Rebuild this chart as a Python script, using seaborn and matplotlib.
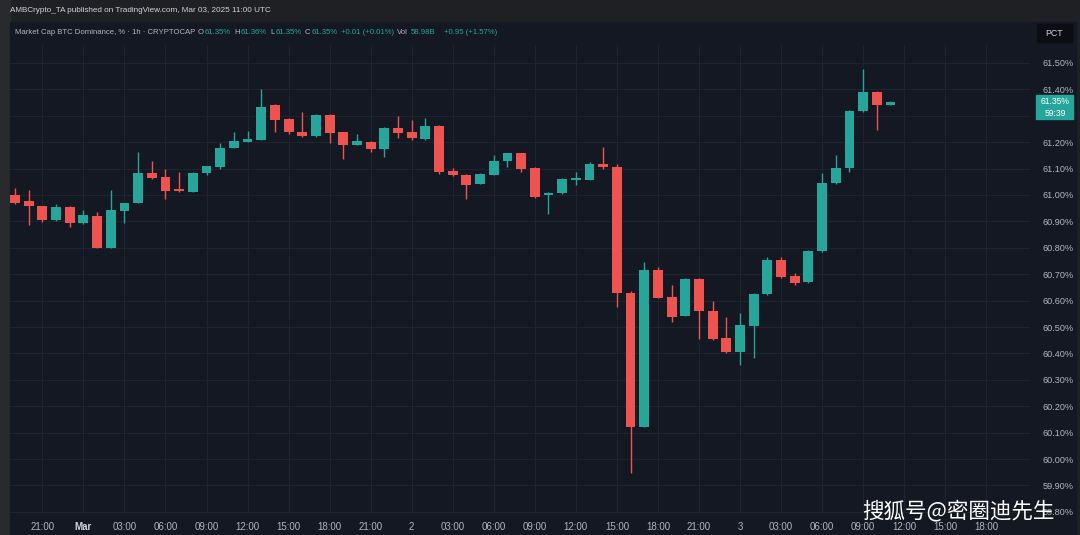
import numpy as np
import pandas as pd
import matplotlib
matplotlib.use("Agg")
import matplotlib.pyplot as plt
import seaborn as sns
from matplotlib.patches import Rectangle

# BTC dominance, 1h candles from 2025-02-28 19:00 to 2025-03-03 11:00 UTC
opens = [61.00, 60.977, 60.958, 60.905, 60.955, 60.894, 60.92, 60.80, 60.94, 60.97,
         61.083, 61.068, 61.019, 61.011, 61.083, 61.106, 61.178, 61.20, 61.208, 61.341,
         61.288, 61.239, 61.224, 61.303, 61.239, 61.19, 61.20, 61.174, 61.254, 61.239,
         61.212, 61.261, 61.091, 61.076, 61.042, 61.076, 61.129, 61.159, 61.102, 61.00,
         61.008, 61.055, 61.057, 61.117, 61.106, 60.629, 60.121, 60.716, 60.614, 60.542,
         60.682, 60.561, 60.458, 60.405, 60.504, 60.625, 60.754, 60.693, 60.67, 60.788,
         61.045, 61.102, 61.318, 61.39, 61.341]
highs = [61.027, 61.019, 60.96, 60.966, 60.96, 60.943, 60.936, 61.019, 60.97, 61.163,
         61.129, 61.10, 61.087, 61.087, 61.11, 61.197, 61.239, 61.242, 61.40, 61.345,
         61.29, 61.314, 61.305, 61.305, 61.24, 61.231, 61.205, 61.256, 61.30, 61.284,
         61.292, 61.265, 61.102, 61.08, 61.085, 61.152, 61.16, 61.16, 61.105, 61.01,
         61.065, 61.087, 61.125, 61.182, 61.117, 60.635, 60.746, 60.727, 60.659, 60.685,
         60.685, 60.598, 60.538, 60.553, 60.63, 60.765, 60.765, 60.705, 60.79, 61.083,
         61.152, 61.32, 61.477, 61.392, 61.355]
lows = [60.965, 60.886, 60.898, 60.90, 60.879, 60.89, 60.80, 60.80, 60.894, 60.97,
        61.06, 60.985, 61.01, 61.01, 61.076, 61.10, 61.178, 61.20, 61.208, 61.239,
        61.231, 61.22, 61.22, 61.197, 61.136, 61.19, 61.163, 61.144, 61.216, 61.208,
        61.21, 61.08, 61.073, 60.985, 61.04, 61.076, 61.106, 61.087, 60.989, 60.928,
        61.005, 61.038, 61.055, 61.10, 60.576, 59.947, 60.12, 60.61, 60.519, 60.54,
        60.455, 60.45, 60.40, 60.356, 60.383, 60.62, 60.685, 60.66, 60.665, 60.785,
        61.04, 61.087, 61.315, 61.246, 61.34]
closes = [60.97, 60.958, 60.905, 60.955, 60.894, 60.924, 60.80, 60.943, 60.97, 61.083,
          61.064, 61.015, 61.015, 61.083, 61.11, 61.178, 61.205, 61.212, 61.333, 61.284,
          61.239, 61.224, 61.303, 61.235, 61.19, 61.205, 61.174, 61.254, 61.235, 61.216,
          61.261, 61.087, 61.076, 61.038, 61.08, 61.129, 61.159, 61.098, 60.992, 61.008,
          61.061, 61.058, 61.117, 61.106, 60.629, 60.121, 60.716, 60.61, 60.538, 60.682,
          60.561, 60.455, 60.405, 60.508, 60.625, 60.754, 60.689, 60.667, 60.788, 61.045,
          61.102, 61.318, 61.39, 61.341, 61.352]
price_ticks = [59.8, 59.9, 60.0, 60.1, 60.2, 60.3, 60.4, 60.5, 60.6, 60.7, 60.8,
               60.9, 61.0, 61.1, 61.2, 61.3, 61.4, 61.5]
last_price = 61.35

OUTER = "#1f2023"
PANEL = "#141823"
GRID = "#1f2330"
UP = "#26a69a"
DOWN = "#ef5350"
LABEL = "#b2b5be"

sns.set_theme(style="dark", rc={"axes.facecolor": PANEL, "figure.facecolor": OUTER,
                                "grid.color": GRID, "grid.linewidth": 0.8})
plt.rcParams["font.family"] = ["Liberation Sans", "DejaVu Sans"]

df = pd.DataFrame({"open": opens, "high": highs, "low": lows, "close": closes})
df["time"] = pd.date_range("2025-02-28 19:00", periods=len(df), freq="h")
df["x"] = np.arange(len(df))
df["color"] = np.where(df["close"] >= df["open"], UP, DOWN)
df["bottom"] = df[["open", "close"]].min(axis=1)
df["body"] = (df["close"] - df["open"]).abs().clip(lower=0.008)

W, H = 1080, 535
def fx(x):
    return x / W
def fy(y):
    return 1 - y / H

fig = plt.figure(figsize=(10.8, 5.35), dpi=100)
fig.add_artist(Rectangle((0, 0), fx(10), 1, transform=fig.transFigure, color="#292a2d", zorder=0))
fig.add_artist(Rectangle((fx(10), 0), fx(1076) - fx(10), fy(22), transform=fig.transFigure,
                         color=PANEL, zorder=0))
ax = fig.add_axes([fx(10), fy(514), fx(1030) - fx(10), fy(45) - fy(514)])

ax.vlines(df["x"], df["low"], df["high"], colors=df["color"], lw=1, zorder=2)
ax.bar(df["x"], df["body"], bottom=df["bottom"], width=0.72, color=df["color"],
       linewidth=0, zorder=3)

ax.set_xlim(-0.365, 74.2)
ax.set_ylim(59.792, 61.568)

# time axis: every 3 hours out to Mar 3 18:00
ticks = pd.date_range("2025-02-28 21:00", "2025-03-03 18:00", freq="3h")
tick_x = [(t - df["time"].iloc[0]) / pd.Timedelta(hours=1) for t in ticks]
tick_lab = []
for t in ticks:
    if t.hour == 0:
        tick_lab.append("Mar" if t.day == 1 else str(t.day))
    else:
        tick_lab.append(t.strftime("%H:%M"))
ax.set_xticks(tick_x)
ax.set_xticklabels(tick_lab)
ax.set_yticks(price_ticks)
# the 61.30% label sits under the last-price tag, so it is not shown
ax.set_yticklabels(["" if abs(v - 61.3) < 1e-9 else f"{v:.2f}%" for v in price_ticks])
ax.yaxis.tick_right()
ax.tick_params(axis="x", length=0, pad=6, labelsize=7, labelcolor=LABEL)
ax.tick_params(axis="y", length=0, pad=9, labelsize=6.6, labelcolor=LABEL)
for lab in ax.get_xticklabels():
    if lab.get_text() == "Mar":
        lab.set_color("#d1d4dc")
        lab.set_fontweight("bold")
ax.grid(True, color=GRID, lw=0.8)
sns.despine(ax=ax, left=True, bottom=True, right=True, top=True)

# header
fig.text(fx(10), fy(11), "AMBCrypto_TA published on TradingView.com, Mar 03, 2025 11:00 UTC",
         color="#d1d4dc", fontsize=5.9, va="center", ha="left")
header = [(15, "Market Cap BTC Dominance, % · 1h · CRYPTOCAP", LABEL),
          (198, "O", LABEL), (203, "61.35%", UP),
          (234, "H", LABEL), (239, "61.36%", UP),
          (270, "L", LABEL), (274, "61.35%", UP),
          (305, "C", LABEL), (310, "61.35%", UP),
          (341, "+0.01 (+0.01%)", UP),
          (397, "Vol", LABEL), (411, "58.98B", UP),
          (444, "+0.95 (+1.57%)", UP)]
renderer = fig.canvas.get_renderer()
end = 0
for x, s, c in header:
    gap = 1 if len(s) == 1 or s == "Vol" else 3
    t = fig.text(fx(max(x, end + gap)), fy(33), s, color=c, fontsize=5.6, va="center", ha="left")
    bb = t.get_window_extent(renderer)
    end = bb.x1
    if len(s) == 1 or s == "Vol":
        end = bb.x1 - 2

# PCT button
fig.add_artist(Rectangle((fx(1037), fy(42)), fx(35), fy(0) - fy(18), transform=fig.transFigure,
                         color="#0b0d12", zorder=5))
fig.text(fx(1054), fy(33), "PCT", color="#d1d4dc", fontsize=6.3, ha="center", va="center", zorder=6)

# last price tag with bar countdown
fig.add_artist(Rectangle((fx(1036), fy(119)), fx(37), fy(0) - fy(24), transform=fig.transFigure,
                         color=UP, zorder=5))
fig.text(fx(1055), fy(101.5), f"{last_price:.2f}%", color="white", fontsize=6.2, ha="center",
         va="center", zorder=6)
fig.text(fx(1055), fy(113), "59:39", color="white", fontsize=6.2, ha="center", va="center", zorder=6)

# watermark
fig.text(fx(958), fy(511), "搜狐号@密圈迪先生", color="white", fontsize=15.5, ha="center",
         va="center", family=["Noto Sans CJK SC", "DejaVu Sans"], zorder=7)

fig.savefig("out.png", dpi=100, facecolor=OUTER)
